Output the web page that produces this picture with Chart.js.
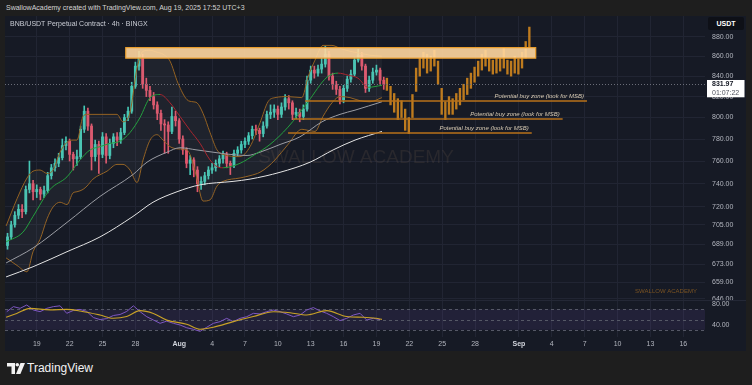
<!DOCTYPE html>
<html>
<head>
<meta charset="utf-8">
<title>BNB/USDT Perpetual Contract 4h</title>
<script src="https://cdn.jsdelivr.net/npm/chart.js@4.4.1/dist/chart.umd.min.js"></script>
<style>
  html, body { margin: 0; padding: 0; }
  body { width: 752px; height: 385px; overflow: hidden; background: #1e1e1e; position: relative; font-family: "Liberation Sans", Arial, sans-serif; }
  .abs { position: absolute; white-space: nowrap; }
  #header { left: 6px; top: 4px; font-size: 7px; color: #d4d4d4; }
  #panel { left: 5px; top: 16px; width: 741px; height: 335px; background: #161a25; }
  #mainBox { left: 5px; top: 16px; width: 741px; height: 284px; }
  #rsiBox { left: 5px; top: 300px; width: 741px; height: 51px; }
  #sep { left: 5px; top: 300px; width: 741px; height: 1px; background: #242836; }
  #title { left: 10px; top: 20px; font-size: 7px; color: #c9ccd4; }
  #usdt { left: 708px; top: 17px; width: 36px; height: 13px; background: #0e1017; border-radius: 2px; color: #fff; font-size: 7px; font-weight: bold; line-height: 13px; text-align: center; }
  #logo { left: 7px; top: 363px; }
  #brand { left: 27px; top: 361px; font-size: 12px; color: #f2f2f2; }
</style>
</head>
<body>
<div id="header" class="abs">SwallowAcademy created with TradingView.com, Aug 19, 2025 17:52 UTC+3</div>
<div id="panel" class="abs"></div>
<div id="mainBox" class="abs"><canvas id="mainChart"></canvas></div>
<div id="rsiBox" class="abs"><canvas id="rsiChart"></canvas></div>
<div id="sep" class="abs"></div>
<div id="title" class="abs">BNB/USDT Perpetual Contract · 4h · BINGX</div>
<div id="usdt" class="abs">USDT</div>
<svg id="logo" class="abs" width="18" height="11" viewBox="0 0 18 11">
  <path d="M0 0h8v11h-3.5v-7.5h-4.5z" fill="#f2f2f2"/>
  <circle cx="10.3" cy="1.8" r="1.8" fill="#f2f2f2"/>
  <path d="M13.5 0h4.5l-4.6 11h-4.4z" fill="#f2f2f2"/>
</svg>
<div id="brand" class="abs">TradingView</div>

<script>
const GRID = '#212533';
const AXIS_TEXT = '#b2b5be';
const FONT = '"Liberation Sans", Arial, sans-serif';
const UP = '#45c7b5';
const DOWN = '#e0566c';

// x axis: days from Aug 1 2025 00:00
const DAY_MIN = -15.9, DAY_MAX = 47.98;
const PRICE_MIN = 645.2, PRICE_MAX = 901.7;
const RSI_MIN = 15.9, RSI_MAX = 88.4;

const priceTicks = [880, 860, 840, 820, 800, 780, 760, 740, 720, 705, 689, 673, 659, 646];
const timeTickDays = [-13, -10, -7, -4, 0, 3, 6, 9, 12, 15, 18, 21, 24, 27, 31, 34, 37, 40, 43, 46];
const timeTickLabels = ['19', '22', '25', '28', 'Aug', '4', '7', '10', '13', '16', '19', '22', '25', '28', 'Sep', '4', '7', '10', '13', '16'];

// candles (8h steps, first one Jul 16 08:00)
const candleStart = -15.67;
const candleStep = 1 / 3;
const firstOpen = 688;
const closes = [
  695, 705, 713, 718, 716, 735, 740, 733, 735, 731,
  734, 747, 754, 758, 763, 774, 778, 766, 762, 764,
  789, 806, 792, 764, 775, 766, 782, 765, 776, 782,
  779, 786, 800, 806, 830, 850, 858, 832, 826, 820,
  812, 804, 794, 793, 787, 801, 797, 780, 770, 758,
  761, 752, 740, 742, 747, 752, 754, 758, 762, 766,
  758, 756, 767, 770, 775, 778, 783, 789, 788, 785,
  792, 803, 805, 808, 803, 810, 818, 814, 803, 805,
  801, 808, 836, 846, 843, 847, 852, 862, 840, 832,
  827, 817, 828, 837, 842, 856, 861, 850, 828, 836,
  844, 846, 836, 832
];
const highs = [
  698, 708, 716, 722, 722, 738, 760, 743, 739, 737,
  738, 750, 757, 762, 767, 780, 782, 780, 768, 770,
  792, 811, 809, 794, 779, 778, 786, 785, 780, 785,
  786, 790, 803, 810, 834, 854, 865, 862, 838, 830,
  824, 815, 807, 798, 796, 810, 806, 799, 783, 772,
  765, 763, 755, 746, 750, 755, 758, 761, 765, 769,
  768, 760, 770, 773, 778, 781, 786, 792, 793, 790,
  796, 806, 812, 812, 811, 814, 822, 821, 816, 809,
  808, 812, 840, 850, 850, 851, 858, 870, 865, 843,
  835, 830, 831, 840, 846, 859, 867, 864, 852, 840,
  848, 851, 848, 839
];
const lows = [
  685, 693, 703, 710, 711, 714, 732, 726, 728, 726,
  728, 732, 744, 751, 755, 761, 770, 760, 752, 756,
  762, 786, 788, 752, 760, 749, 763, 758, 762, 772,
  774, 776, 784, 797, 804, 828, 846, 828, 820, 816,
  808, 798, 788, 767, 767, 785, 792, 776, 766, 754,
  748, 746, 733, 735, 739, 744, 749, 751, 755, 758,
  754, 748, 754, 764, 767, 772, 775, 780, 784, 778,
  782, 790, 799, 800, 798, 800, 807, 808, 798, 799,
  796, 798, 806, 833, 838, 840, 843, 849, 836, 827,
  822, 813, 814, 825, 834, 840, 854, 846, 824, 825,
  833, 841, 832, 827
];

// Bollinger bands
const bandDays = [-15.80, -14.80, -13.89, -13.34, -12.70, -12.06, -11.51, -10.88, -10.24, -9.69,
  -9.33, -8.78, -8.41, -7.87, -6.59, -5.68, -5.13, -4.49, -3.85, -3.30,
  -2.66, -2.02, -1.48, -0.84, -0.11, 0.71, 1.26, 1.62, 2.17, 2.81,
  3.45, 4.00, 5.55, 6.46, 7.37, 8.10, 8.74, 9.93, 11.19, 11.75,
  12.39, 13.12, 13.94, 14.67, 15.58, 16.50, 17.41, 18.50];
const bbUpper = [704, 727, 745, 751, 752, 749, 752, 768, 777, 779,
  779, 801, 803, 803, 803, 803, 796, 805, 848, 865,
  866, 864, 862, 855, 833, 817, 815, 814, 804, 786,
  770, 766, 764, 773, 795, 815, 819, 820, 819, 839,
  856, 871, 871, 868, 865, 863, 861, 860];
const bbLower = [678, 672, 667, 683, 693, 710, 720, 724, 722, 732,
  733, 735, 738, 744, 751, 757, 757, 752, 741, 761,
  779, 784, 779, 773, 771, 770, 758, 744, 725, 726,
  738, 742, 745, 747, 750, 755, 761, 775, 789, 788,
  787, 801, 814, 820, 819, 816, 815, 819];

// short moving average (green rising / red falling)
const maDays = [-15.80, -14.25, -13.34, -11.79, -10.24, -9.06, -8.14, -7.23, -6.31, -5.40,
  -4.49, -3.58, -2.66, -1.75, -0.84, 0.07, 0.99, 1.90, 2.81, 3.45,
  4.00, 5.55, 6.92, 8.28, 9.93, 11.75, 13.49, 14.49, 15.40, 16.31, 17.23, 18.50];
const maVals = [691, 699, 712, 735, 746, 761, 770, 773, 776, 778,
  786, 800, 819, 822, 814, 801, 788, 776, 761, 755,
  754, 758, 766, 775, 791, 815, 839, 843, 841, 838, 829, 831];

const ma100Days = [-15.80, -13.34, -10.24, -7.23, -4.22, -2.94, -1.11, 0.07, 1.62, 3.08,
  4.64, 6.19, 7.37, 9.20, 11.01, 13.03, 14.67, 16.04, 18.50];
const ma100Vals = [674, 686, 707, 729, 748, 759, 768, 772, 770, 768,
  766, 765, 768, 775, 782, 796, 803, 807, 815];

const ma200Days = [-15.80, -13.34, -10.24, -7.23, -4.22, -2.39, -0.20, 1.90, 4.91, 6.46,
  9.20, 11.94, 14.04, 16.04, 18.50];
const ma200Vals = [663, 671, 683, 695, 712, 724, 733, 739, 742, 744,
  750, 759, 770, 779, 787];

// projected path (bars pattern), 8h steps
const projStart = 18.95;
const projStep = 1 / 3;
const projLows = [826, 812, 805, 798, 800, 788, 785, 800, 825, 840,
  848, 843, 845, 850, 832, 803, 798, 803, 803, 808,
  812, 817, 822, 828, 834, 840, 846, 850, 845, 842,
  843, 845, 848, 842, 840, 843, 842, 848, 858, 868];
const projHighs = [838, 830, 823, 818, 816, 808, 800, 822, 848, 858,
  864, 862, 860, 866, 855, 828, 815, 820, 818, 823,
  828, 832, 838, 843, 849, 855, 862, 866, 858, 856,
  858, 858, 868, 856, 855, 860, 857, 864, 875, 890];

// resistance zone and buy zones
const zoneDays = [-4.88, 32.53];
const zonePrices = [858.0, 868.7];
const lastPrice = 831.97;
const lastPriceTimer = '01:07:22';
const buyZonePrices = [815.3, 798.3, 785.3];
const buyZoneStart = [11.48, 10.38, 9.93];
const buyZoneEnd = [37.21, 34.99, 32.17];
const buyZoneLabel = 'Potential buy zone (look for MSB)';

// RSI pane
const rsiStart = -15.74;
const rsiStep = 0.6083;
const rsiVals = [65.5, 75.4, 72.1, 78.6, 68.8, 65.5, 72.1, 75.4, 77, 62.3,
  68, 70, 66, 54, 50, 52, 58, 60, 66, 77,
  65.5, 55.7, 49.2, 42.7, 47, 42.7, 39.4, 34, 31, 27,
  35, 42.7, 46, 52.5, 46, 52.5, 55.7, 62.3, 61, 65.5,
  68.8, 65.5, 61, 55.7, 59, 68.8, 73.5, 67, 62.3, 55.7,
  48, 52.5, 59, 62.3, 49.2, 52.5, 50];
const rsiMaDays = [-15.80, -14.83, -13.61, -11.79, -10.27, -9.05, -7.23, -6.01, -4.79, -3.58,
  -2.36, -1.14, 0.68, 1.90, 3.11, 4.94, 6.76, 8.59, 10.11, 11.63,
  13.46, 15.28, 16.80, 17.96, 18.50];
const rsiMaVals = [54.5, 62, 72, 69, 70, 67, 59, 52.5, 56, 67.5,
  62, 49, 41, 31, 35, 46, 56, 65.5, 63.5, 59,
  67.5, 56, 54.5, 52.5, 50.5];
const rsiLevels = [70, 50, 30];
const rsiLabels = [80, 40];

const candleDays = closes.map((_, i) => candleStart + i * candleStep);
const opens = closes.map((c, i) => i === 0 ? firstOpen : closes[i - 1]);
const candleColors = closes.map((c, i) => c >= opens[i] ? UP : DOWN);
const projDays = projLows.map((_, i) => projStart + i * projStep);
const rsiDays = rsiVals.map((_, i) => rsiStart + i * rsiStep);
const pts = (xs, ys) => xs.map((x, i) => ({ x: x, y: ys[i] }));

const priceOverlay = {
  id: 'priceOverlay',
  beforeDatasetsDraw(chart) {
    const { ctx, chartArea: a } = chart;
    ctx.save();
    ctx.font = '19px ' + FONT;
    ctx.fillStyle = 'rgba(110,92,76,0.22)';
    ctx.textAlign = 'center';
    ctx.textBaseline = 'middle';
    ctx.fillText('SWALLOW ACADEMY', (a.left + a.right) / 2 + 1, 142);
    ctx.font = '6px ' + FONT;
    ctx.fillStyle = '#7c5422';
    ctx.fillText('SWALLOW ACADEMY', a.right - 39, 275);
    ctx.restore();
  },
  afterDatasetsDraw(chart) {
    const { ctx, chartArea: a } = chart;
    const xs = chart.scales.x, ys = chart.scales.y;
    ctx.save();
    // resistance zone
    const zx1 = xs.getPixelForValue(zoneDays[0]), zx2 = xs.getPixelForValue(zoneDays[1]);
    const zy1 = ys.getPixelForValue(zonePrices[1]), zy2 = ys.getPixelForValue(zonePrices[0]);
    ctx.fillStyle = 'rgba(255,215,160,0.9)';
    ctx.fillRect(zx1, zy1, zx2 - zx1, zy2 - zy1);
    ctx.strokeStyle = '#eea02e';
    ctx.lineWidth = 1.2;
    ctx.strokeRect(zx1, zy1, zx2 - zx1, zy2 - zy1);
    // last price dotted line
    const ly = Math.round(ys.getPixelForValue(lastPrice)) + 0.5;
    ctx.strokeStyle = '#6a6d78';
    ctx.lineWidth = 1;
    ctx.setLineDash([1, 2]);
    ctx.beginPath(); ctx.moveTo(a.left, ly); ctx.lineTo(a.right, ly); ctx.stroke();
    ctx.setLineDash([]);
    // buy zones
    ctx.font = 'italic 6px ' + FONT;
    ctx.textAlign = 'right';
    ctx.textBaseline = 'bottom';
    buyZonePrices.forEach((p, i) => {
      const y = Math.round(ys.getPixelForValue(p));
      const x1 = xs.getPixelForValue(buyZoneStart[i]), x2 = xs.getPixelForValue(buyZoneEnd[i]);
      ctx.strokeStyle = '#b8721a';
      ctx.lineWidth = 1.3;
      ctx.beginPath(); ctx.moveTo(x1, y); ctx.lineTo(x2, y); ctx.stroke();
      ctx.fillStyle = '#d8cbb4';
      ctx.fillText(buyZoneLabel, x2 - 3, y - 2);
    });
    ctx.restore();
  },
  afterDraw(chart) {
    const { ctx, chartArea: a } = chart;
    const ys = chart.scales.y;
    ctx.save();
    ctx.font = '7px ' + FONT;
    ctx.fillStyle = AXIS_TEXT;
    ctx.textAlign = 'left';
    ctx.textBaseline = 'middle';
    priceTicks.forEach(v => ctx.fillText(v.toFixed(2), a.right + 7, ys.getPixelForValue(v)));
    // last price tag
    const y = ys.getPixelForValue(lastPrice);
    ctx.fillStyle = '#ffffff';
    ctx.fillRect(a.right + 2, y - 4.3, 37.5, 17.3);
    ctx.fillStyle = '#131722';
    ctx.font = 'bold 7px ' + FONT;
    ctx.fillText(lastPrice.toFixed(2), a.right + 7, y);
    ctx.font = '7px ' + FONT;
    ctx.fillStyle = '#50535e';
    ctx.fillText(lastPriceTimer, a.right + 7, y + 8.3);
    ctx.restore();
  }
};

new Chart(document.getElementById('mainChart'), {
  type: 'line',
  data: {
    datasets: [
      { type: 'line', label: 'MA', data: pts(maDays, maVals), borderColor: '#24a03f', borderWidth: 1,
        segment: { borderColor: c => c.p1.parsed.y >= c.p0.parsed.y ? '#24a03f' : '#a8262f' },
        pointRadius: 0, cubicInterpolationMode: 'monotone', order: 1 },
      { type: 'line', label: 'MA100', data: pts(ma100Days, ma100Vals), borderColor: '#9b9da4', borderWidth: 1,
        pointRadius: 0, cubicInterpolationMode: 'monotone', order: 2 },
      { type: 'line', label: 'MA200', data: pts(ma200Days, ma200Vals), borderColor: '#e4e4e4', borderWidth: 1,
        pointRadius: 0, cubicInterpolationMode: 'monotone', order: 2 },
      { type: 'line', label: 'BB upper', data: pts(bandDays, bbUpper), borderColor: '#946222', borderWidth: 1,
        pointRadius: 0, cubicInterpolationMode: 'monotone', fill: '+1', backgroundColor: 'rgba(150,150,160,0.07)', order: 3 },
      { type: 'line', label: 'BB lower', data: pts(bandDays, bbLower), borderColor: '#946222', borderWidth: 1,
        pointRadius: 0, cubicInterpolationMode: 'monotone', fill: false, order: 3 },
      { type: 'bar', label: 'wicks', data: candleDays.map((d, i) => ({ x: d, y: [lows[i], highs[i]] })),
        backgroundColor: candleColors, barThickness: 1, grouped: false, order: 6 },
      { type: 'bar', label: 'bodies', data: candleDays.map((d, i) => ({ x: d, y: [opens[i], closes[i]] })),
        backgroundColor: candleColors, barThickness: 2.2, minBarLength: 1, grouped: false, order: 5 },
      { type: 'bar', label: 'projection', data: projDays.map((d, i) => ({ x: d, y: [projLows[i], projHighs[i]] })),
        backgroundColor: 'rgba(208,134,30,0.9)', barThickness: 1.7, grouped: false, order: 4 }
    ]
  },
  options: {
    animation: false,
    responsive: true,
    maintainAspectRatio: false,
    layout: { padding: 0 },
    plugins: { legend: { display: false }, tooltip: { enabled: false } },
    scales: {
      x: {
        type: 'linear', min: DAY_MIN, max: DAY_MAX, bounds: 'data', offset: false,
        grid: { color: GRID, drawTicks: false, offset: false }, border: { display: false },
        ticks: { display: false },
        afterBuildTicks: s => { s.ticks = timeTickDays.map(v => ({ value: v })); },
        afterFit: s => { s.height = 0; }
      },
      y: {
        type: 'logarithmic', position: 'right', min: PRICE_MIN, max: PRICE_MAX, bounds: 'data',
        grid: { color: GRID, drawTicks: false }, border: { display: false },
        ticks: { display: false },
        afterBuildTicks: s => { s.ticks = priceTicks.map(v => ({ value: v })); },
        afterFit: s => { s.width = 41; }
      }
    }
  },
  plugins: [priceOverlay]
});

const rsiOverlay = {
  id: 'rsiOverlay',
  beforeDatasetsDraw(chart) {
    const { ctx, chartArea: a } = chart;
    const ys = chart.scales.y;
    ctx.save();
    const yTop = ys.getPixelForValue(rsiLevels[0]), yBot = ys.getPixelForValue(rsiLevels[2]);
    ctx.fillStyle = 'rgba(126,87,194,0.12)';
    ctx.fillRect(a.left, yTop, a.right - a.left, yBot - yTop);
    ctx.strokeStyle = '#555866';
    ctx.lineWidth = 1;
    ctx.setLineDash([3, 3]);
    rsiLevels.forEach(v => {
      const y = Math.round(ys.getPixelForValue(v)) + 0.5;
      ctx.beginPath(); ctx.moveTo(a.left, y); ctx.lineTo(a.right, y); ctx.stroke();
    });
    ctx.restore();
  },
  afterDraw(chart) {
    const { ctx, chartArea: a } = chart;
    const ys = chart.scales.y;
    ctx.save();
    ctx.font = '7px ' + FONT;
    ctx.fillStyle = AXIS_TEXT;
    ctx.textBaseline = 'middle';
    rsiLabels.forEach(v => ctx.fillText(v.toFixed(2), a.right + 7, ys.getPixelForValue(v)));
    ctx.restore();
  }
};

new Chart(document.getElementById('rsiChart'), {
  type: 'line',
  data: {
    datasets: [
      { label: 'RSI', data: pts(rsiDays, rsiVals), borderColor: '#7e57c2', borderWidth: 1, pointRadius: 0, order: 2 },
      { label: 'RSI MA', data: pts(rsiMaDays, rsiMaVals), borderColor: '#c9a227', borderWidth: 1.1, pointRadius: 0,
        cubicInterpolationMode: 'monotone', order: 1 }
    ]
  },
  options: {
    animation: false,
    responsive: true,
    maintainAspectRatio: false,
    layout: { padding: 0 },
    plugins: { legend: { display: false }, tooltip: { enabled: false } },
    scales: {
      x: {
        type: 'linear', min: DAY_MIN, max: DAY_MAX, bounds: 'data', offset: false,
        grid: { color: GRID, drawTicks: false }, border: { display: false },
        ticks: {
          autoSkip: false, maxRotation: 0, padding: 3,
          callback: (v, i) => timeTickLabels[i],
          color: c => (timeTickLabels[c.index] === 'Aug' || timeTickLabels[c.index] === 'Sep') ? '#d1d4dc' : AXIS_TEXT,
          font: c => ({ family: FONT, size: 7, weight: (timeTickLabels[c.index] === 'Aug' || timeTickLabels[c.index] === 'Sep') ? 'bold' : 'normal' })
        },
        afterBuildTicks: s => { s.ticks = timeTickDays.map(v => ({ value: v })); },
        afterFit: s => { s.height = 14; }
      },
      y: {
        type: 'linear', position: 'right', min: RSI_MIN, max: RSI_MAX, bounds: 'data',
        grid: { display: false }, border: { display: false },
        ticks: { display: false },
        afterFit: s => { s.width = 41; }
      }
    }
  },
  plugins: [rsiOverlay]
});
</script>
</body>
</html>
